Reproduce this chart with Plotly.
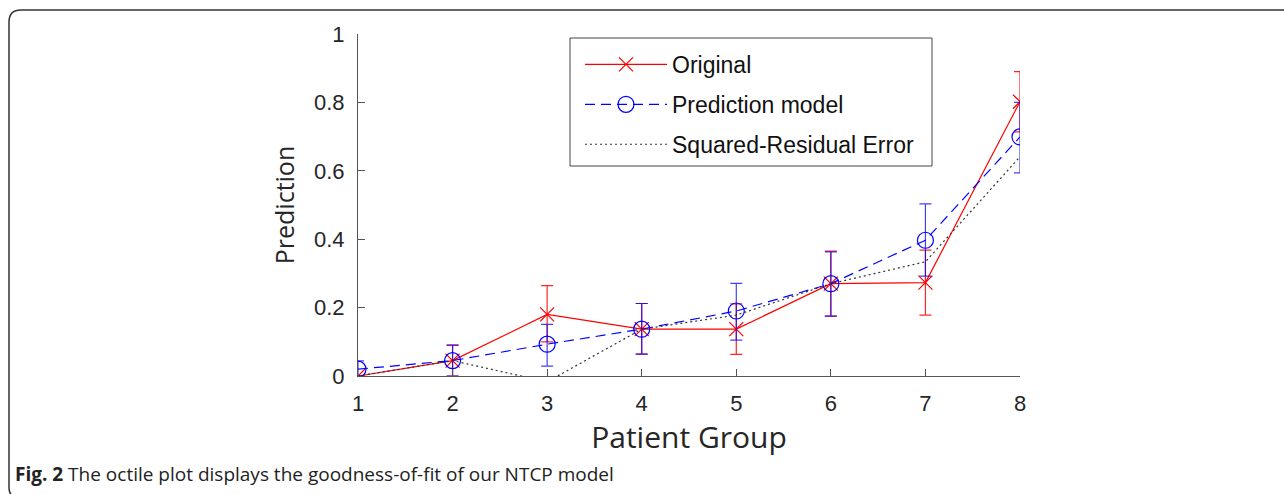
import plotly.graph_objects as go

# ---- data ----
groups = [1, 2, 3, 4, 5, 6, 7, 8]
original = [0.0, 0.045, 0.18, 0.137, 0.137, 0.27, 0.273, 0.802]
original_err_plus = [0.0, 0.045, 0.084, 0.075, 0.074, 0.095, 0.095, 0.088]
original_err_minus = [0.0, 0.045, 0.080, 0.073, 0.074, 0.095, 0.095, 0.088]
prediction = [0.02, 0.045, 0.093, 0.137, 0.19, 0.27, 0.397, 0.699]
prediction_err_plus = [0.024, 0.045, 0.058, 0.075, 0.081, 0.093, 0.106, 0.101]
prediction_err_minus = [0.02, 0.045, 0.064, 0.073, 0.085, 0.095, 0.105, 0.105]
squared_residual = [0.0, 0.045, -0.017, 0.137, 0.178, 0.27, 0.334, 0.641]
y_ticks = [0, 0.2, 0.4, 0.6, 0.8, 1]
y_tick_labels = ["0", "0.2", "0.4", "0.6", "0.8", "1"]

W, H = 1284, 494
L, R, T, B = 358, 1020, 34, 376  # plot area in pixels

def px(x):
    return (x - L) / (R - L)

def py(y):
    return (B - y) / (B - T)

fig = go.Figure()

fig.add_trace(go.Scatter(
    x=groups, y=original, name="Original", mode="lines+markers",
    line=dict(color="#ff0000", width=1.2),
    marker=dict(symbol="x-thin-open", size=14, line=dict(color="#ff0000", width=1.2)),
    error_y=dict(type="data", symmetric=False, array=original_err_plus,
                 arrayminus=original_err_minus, color="rgba(255,0,0,0.85)", thickness=1.2, width=6),
    legendgroup="a",
))
fig.add_trace(go.Scatter(
    x=groups, y=prediction, name="Prediction model", mode="lines+markers",
    line=dict(color="#0000ff", width=1.2, dash="10px,6px"),
    marker=dict(symbol="circle-open", size=16, line=dict(color="#0000ff", width=1.2)),
    error_y=dict(type="data", symmetric=False, array=prediction_err_plus,
                 arrayminus=prediction_err_minus, color="rgba(0,0,255,0.75)", thickness=1.2, width=6),
    legendgroup="b",
))
fig.add_trace(go.Scatter(
    x=groups, y=squared_residual, name="Squared-Residual Error", mode="lines",
    line=dict(color="#333333", width=1.2, dash="2px,3px"),
    legendgroup="c",
))

axis_font = dict(family="Liberation Sans, Arial", size=22, color="#262626")

fig.update_xaxes(
    range=[1, 8], tickvals=groups, ticktext=[str(g) for g in groups],
    showline=True, linecolor="#555555", linewidth=1.2, ticks="inside", ticklen=7,
    tickcolor="#555555", showgrid=False, zeroline=False, tickfont=axis_font,
    ticklabelstandoff=7,
    title=dict(text="Patient Group", font=dict(family="Open Sans, Noto Sans", size=30, color="#262626"),
               standoff=8),
)
fig.update_yaxes(
    range=[0, 1], tickvals=y_ticks, ticktext=y_tick_labels,
    showline=True, linecolor="#555555", linewidth=1.2, ticks="inside", ticklen=7,
    tickcolor="#555555", showgrid=False, zeroline=False, tickfont=axis_font,
    ticklabelstandoff=8,
    title=dict(text="Prediction", font=dict(family="Open Sans, Noto Sans", size=25, color="#262626"),
               standoff=12),
)

# outer rounded frame and legend box (decoration)
r = 12
x0, y0 = 9, 10
path = (f"M {px(W+5)},{py(y0)} L {px(x0+r)},{py(y0)} "
        f"Q {px(x0)},{py(y0)} {px(x0)},{py(y0+r)} "
        f"L {px(x0)},{py(H-6)} Q {px(x0)},{py(H)} {px(x0+4)},{py(H+2)}")

fig.update_layout(
    width=W, height=H,
    margin=dict(l=L, r=W - R, t=T, b=H - B, autoexpand=False),
    paper_bgcolor="white", plot_bgcolor="white",
    showlegend=True,
    legend=dict(
        x=px(580), y=py(43), xanchor="left", yanchor="top",
        bgcolor="rgba(0,0,0,0)", borderwidth=0,
        font=dict(family="Liberation Sans, Arial", size=23, color="#111111"),
        tracegroupgap=7, itemwidth=82,
    ),
    shapes=[
        dict(type="path", xref="paper", yref="paper", path=path,
             line=dict(color="#333333", width=1.5)),
        dict(type="rect", xref="paper", yref="paper", x0=px(570), x1=px(932), y0=py(166), y1=py(38),
             line=dict(color="#444444", width=1), fillcolor="white", layer="below"),
    ],
    annotations=[dict(
        xref="paper", yref="paper", x=px(13), y=py(474), xanchor="left", yanchor="middle",
        text="<b>Fig. 2</b> The octile plot displays the goodness-of-fit of our NTCP model",
        showarrow=False, font=dict(family="Open Sans, Noto Sans", size=19, color="#222222"),
    )],
)

fig.write_html("out.html")
